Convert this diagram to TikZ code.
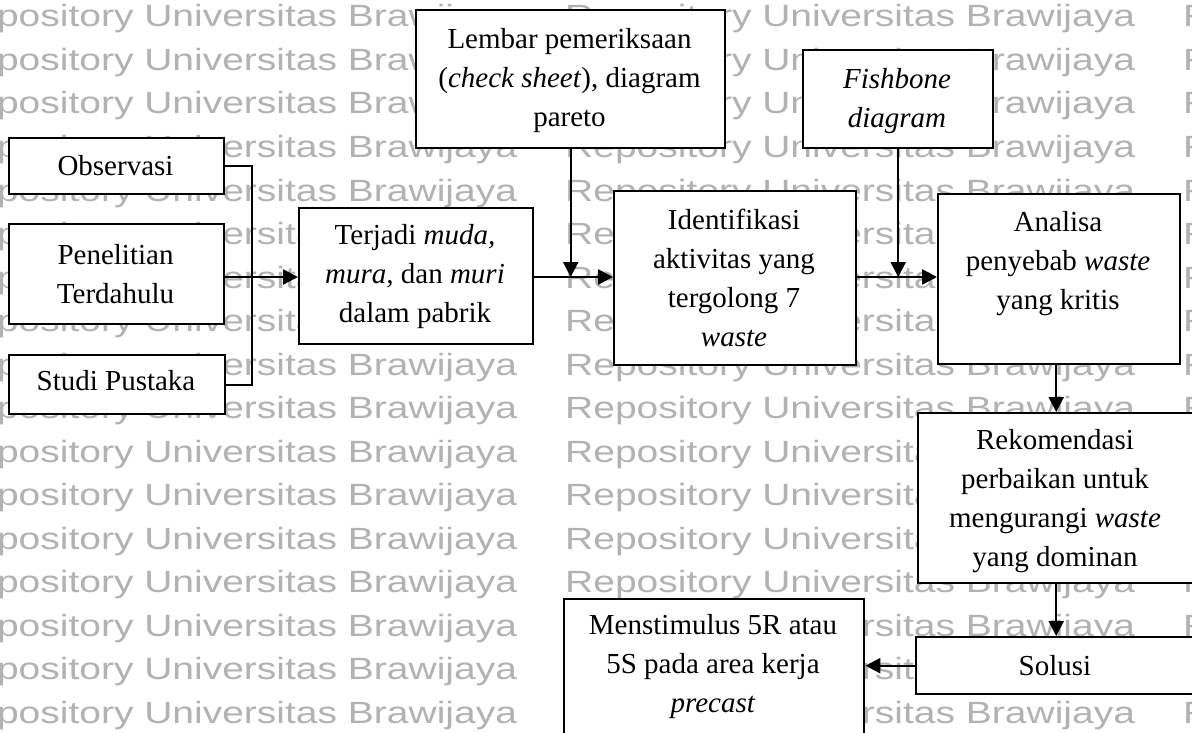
\documentclass[tikz,border=0pt]{standalone}
\usepackage{fontspec}
\setmainfont{Liberation Serif}
\newfontfamily\wmfont{Liberation Sans}
\usetikzlibrary{arrows.meta}

\tikzset{
  boxnode/.style={draw=black, fill=white, line width=2.4pt, inner sep=0pt,
                  anchor=north west, rectangle},
  txt/.style={anchor=north, inner sep=0pt, align=center,
              font=\fontsize{29}{39}\selectfont},
  ln/.style={line width=2.4pt},
  arr/.style={line width=2.4pt, -{Triangle[length=15pt,width=15pt]}},
  wm/.style={anchor=base west, inner sep=0pt, text=black!30,
             font=\wmfont\fontsize{30.7}{36}\selectfont}
}

% a box of given corners: #1 name, (#2,#3) top left, (#4,#5) bottom right
\newcommand{\flowbox}[5]{%
  \pgfmathsetmacro{\bw}{#4-#2}\pgfmathsetmacro{\bh}{#5-#3}%
  \node[boxnode, minimum width=\bw pt, minimum height=\bh pt] (#1) at (#2,#3) {};}

\begin{document}
\begin{tikzpicture}[x=1pt, y=-1pt]
\useasboundingbox (0,0) rectangle (1192,733);
\fill[white] (0,0) rectangle (1192,733);

% repository watermark in the background
\foreach \r in {0,...,16} {
  \foreach \cx [count=\ci] in {-53,565,1183} {
    \node[wm] (wm-\r-\ci) at (\cx, 27+43.5*\r)
      {\scalebox{1.27}[1]{Repository Universitas Brawijaya}};
  }
}

% boxes
\flowbox{obs}{8}{137}{223}{193}
\flowbox{pen}{8}{223}{223}{323}
\flowbox{stu}{8}{354}{224}{413}
\flowbox{ter}{298}{207}{532}{343}
\flowbox{lem}{415}{9}{724}{147}
\flowbox{ide}{613}{190}{855}{364}
\flowbox{fis}{802}{49}{992}{147}
\flowbox{ana}{937}{193}{1179}{363}
\flowbox{rek}{917}{412}{1193}{582}
\flowbox{sol}{915}{636}{1193}{693}
\flowbox{men}{563}{598}{863}{745}

% box texts
\node[txt] (obsT) at (115.5,155) {Observasi};
\node[txt] (penT) at (115.5,244) {Penelitian\\Terdahulu};
\node[txt] (stuT) at (116,370) {Studi Pustaka};
\node[txt] (terT) at (415,224) {Terjadi \emph{muda,}\\\emph{mura,} dan \emph{muri}\\dalam pabrik};
\node[txt] (lemT) at (569.5,28) {Lembar pemeriksaan\\(\emph{check sheet}), diagram\\pareto};
\node[txt] (ideT) at (734,209) {Identifikasi\\aktivitas yang\\tergolong 7\\\emph{waste}};
\node[txt] (fisT) at (897,68) {\emph{Fishbone}\\\emph{diagram}};
\node[txt] (anaT) at (1058,211) {Analisa\\penyebab \emph{waste}\\yang kritis};
\node[txt] (rekT) at (1055,429) {Rekomendasi\\perbaikan untuk\\mengurangi \emph{waste}\\yang dominan};
\node[txt] (solT) at (1055,655) {Solusi};
\node[txt] (menT) at (713,614) {Menstimulus 5R atau\\5S pada area kerja\\\emph{precast}};

% connectors
\coordinate (jn) at (252,277);
\draw[ln] (obs.east) -| (jn) |- (stu.east);
\draw[arr] (pen.east |- jn) -- (ter.west |- jn);
\draw[arr] (ter.east |- jn) -- (ide.west |- jn);
\draw[arr] (lem.south) -- (lem.south |- jn);
\draw[arr] (ide.east |- jn) -- (ana.west |- jn);
\draw[arr] (fis.south) -- (fis.south |- jn);
\draw[arr] (ana.south -| rek.north) -- (rek.north);
\draw[arr] (rek.south) -- (rek.south |- sol.north);
\draw[arr] (sol.west) -- (sol.west -| men.east);
\end{tikzpicture}
\end{document}
